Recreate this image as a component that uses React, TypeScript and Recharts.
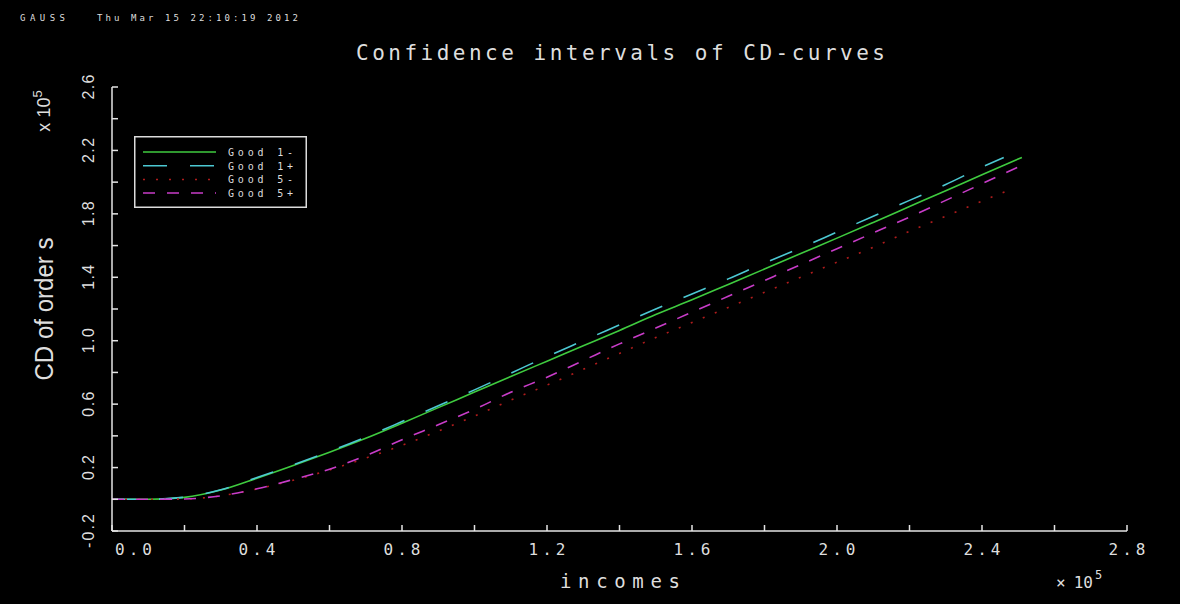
import React from "react";
import { LineChart, Line, XAxis, YAxis, Legend } from "recharts";

// incomes in units of 10^5, CD values in units of 10^5
const incomes = [
  0, 0.1, 0.2, 0.3, 0.4, 0.5, 0.6, 0.7, 0.8, 0.9, 1.0, 1.1, 1.2, 1.3, 1.4, 1.5, 1.6, 1.7, 1.8, 1.9, 2.0, 2.1,
  2.2, 2.3, 2.4, 2.46, 2.49, 2.5, 2.51
];
const good1Minus = [
  0, 0, 0.012, 0.058, 0.133, 0.213, 0.297, 0.385, 0.48, 0.578, 0.676, 0.774, 0.871, 0.968, 1.065, 1.165, 1.258,
  1.355, 1.452, 1.55, 1.647, 1.746, 1.846, 1.946, 2.046, null, null, null, 2.156
];
const good1Plus = [
  0, 0, 0.013, 0.06, 0.137, 0.218, 0.302, 0.392, 0.49, 0.59, 0.69, 0.795, 0.9, 1.0, 1.1, 1.2, 1.295, 1.39, 1.49,
  1.585, 1.685, 1.785, 1.885, 1.985, 2.095, 2.156, null, null, null
];
const good5Minus = [
  0, 0, 0.002, 0.022, 0.065, 0.12, 0.185, 0.26, 0.34, 0.43, 0.525, 0.625, 0.72, 0.82, 0.92, 1.02, 1.115, 1.21,
  1.305, 1.4, 1.495, 1.59, 1.69, 1.785, 1.88, null, 1.965, null, null
];
const good5Plus = [
  0, 0, 0.002, 0.022, 0.066, 0.125, 0.19, 0.275, 0.375, 0.47, 0.567, 0.675, 0.77, 0.875, 0.98, 1.08, 1.18, 1.28,
  1.38, 1.48, 1.58, 1.68, 1.78, 1.885, 1.99, null, null, 2.095, null
];

const xTicks = [0, 0.2, 0.4, 0.6, 0.8, 1.0, 1.2, 1.4, 1.6, 1.8, 2.0, 2.2, 2.4, 2.6, 2.8];
const yTicks = [-0.2, 0, 0.2, 0.4, 0.6, 0.8, 1.0, 1.2, 1.4, 1.6, 1.8, 2.0, 2.2, 2.4, 2.6];

const data = incomes.map((x, i) => ({
  x,
  g1m: good1Minus[i],
  g1p: good1Plus[i],
  g5m: good5Minus[i],
  g5p: good5Plus[i]
}));

const AXIS = "#e4e4e4";
const TEXT = "#dedede";
const MONO = "'DejaVu Sans Mono', monospace";
const NARROW = "'Liberation Sans Narrow', 'Liberation Sans', sans-serif";

const series = [
  { key: "g1m", name: "Good 1-", color: "#3fcb3f", dash: undefined },
  { key: "g1p", name: "Good 1+", color: "#4cc8d2", dash: "24 23" },
  { key: "g5m", name: "Good 5-", color: "#b01c1c", dash: "2 11" },
  { key: "g5p", name: "Good 5+", color: "#c83cc8", dash: "12 12" }
];

function XTick({ x, y, payload }: any) {
  const v = payload.value;
  const major = Math.round(v * 10) % 4 === 0;
  const first = v === 0;
  return (
    <g>
      <line x1={x} x2={x} y1={y} y2={y - 6} stroke={AXIS} strokeWidth={1.5} />
      {major && (
        <text
          x={first ? x + 3 : x}
          y={y + 24}
          textAnchor={first ? "start" : "middle"}
          fill={TEXT}
          fontFamily={MONO}
          fontSize={16}
          textLength={37}
          lengthAdjust="spacing"
        >
          {v.toFixed(1)}
        </text>
      )}
    </g>
  );
}

function YTick({ x, y, payload }: any) {
  const v = payload.value;
  const major = Math.round((v + 0.2) * 10) % 4 === 0;
  const label = v.toFixed(1);
  return (
    <g>
      <line x1={x} x2={x + 6} y1={y} y2={y} stroke={AXIS} strokeWidth={1.5} />
      {major && (
        <text
          transform={`translate(${x - 18},${y}) rotate(-90)`}
          textAnchor="middle"
          fill={TEXT}
          fontFamily={NARROW}
          fontSize={16}
          textLength={label.length > 3 ? 34 : 25}
          lengthAdjust="spacing"
        >
          {label}
        </text>
      )}
    </g>
  );
}

function GaussLegend({ payload }: any) {
  const items = [...(payload || [])].sort(
    (a: any, b: any) =>
      series.findIndex((s) => s.key === a.dataKey) - series.findIndex((s) => s.key === b.dataKey)
  );
  return (
    <svg width={173} height={72} style={{ display: "block" }}>
      <rect x={0.75} y={0.75} width={171.5} height={70.5} fill="#000" stroke="#dcdcdc" strokeWidth={1.5} />
      {items.map((p: any, i: number) => {
        const s = series.find((d) => d.key === p.dataKey);
        const cy = 16 + i * 13.7;
        return (
          <g key={p.value}>
            <line x1={9} x2={82} y1={cy} y2={cy} stroke={p.color} strokeWidth={1.5} strokeDasharray={s?.dash} />
            <text
              x={94}
              y={cy + 4}
              fill={TEXT}
              fontFamily={MONO}
              fontSize={10}
              textLength={65}
              lengthAdjust="spacing"
            >
              {p.value}
            </text>
          </g>
        );
      })}
    </svg>
  );
}

export default function App() {
  return (
    <div style={{ position: "absolute", left: 0, top: 0, width: 1180, height: 604, background: "#000" }}>
      <LineChart width={1180} height={604} data={data} margin={{ top: 87, right: 53, bottom: 0, left: 0 }}>
        <XAxis
          dataKey="x"
          type="number"
          domain={[0, 2.8]}
          ticks={xTicks}
          interval={0}
          height={73}
          axisLine={{ stroke: AXIS, strokeWidth: 1.5 }}
          tickLine={false}
          tickSize={0}
          tickMargin={0}
          tick={<XTick />}
        />
        <YAxis
          type="number"
          domain={[-0.2, 2.6]}
          ticks={yTicks}
          interval={0}
          width={112}
          axisLine={{ stroke: AXIS, strokeWidth: 1.5 }}
          tickLine={false}
          tickSize={0}
          tickMargin={0}
          tick={<YTick />}
        />
        <Legend
          layout="vertical"
          align="center"
          verticalAlign="middle"
          content={<GaussLegend />}
          wrapperStyle={{ position: "absolute", left: 134, top: 136, width: 173, height: 72 }}
        />
        {series.map((s) => (
          <Line
            key={s.key}
            type="monotone"
            dataKey={s.key}
            name={s.name}
            stroke={s.color}
            strokeWidth={1.6}
            strokeDasharray={s.dash}
            dot={false}
            activeDot={false}
            connectNulls
            isAnimationActive={false}
          />
        ))}
      </LineChart>
      <svg
        width={1180}
        height={604}
        style={{ position: "absolute", left: 0, top: 0, pointerEvents: "none" }}
      >
        <text x={20} y={21} fill={TEXT} fontFamily={MONO} fontSize={9} textLength={45} lengthAdjust="spacing">
          GAUSS
        </text>
        <text x={97} y={21} fill={TEXT} fontFamily={MONO} fontSize={9} textLength={201} lengthAdjust="spacing">
          Thu Mar 15 22:10:19 2012
        </text>
        <text
          x={356}
          y={60}
          fill={TEXT}
          fontFamily={MONO}
          fontSize={21}
          textLength={529}
          lengthAdjust="spacing"
        >
          Confidence intervals of CD-curves
        </text>
        <text
          transform="translate(53,309) rotate(-90)"
          textAnchor="middle"
          fill={TEXT}
          fontFamily={NARROW}
          fontSize={26}
          textLength={143}
          lengthAdjust="spacingAndGlyphs"
        >
          CD of order s
        </text>
        <text
          transform="translate(50,111) rotate(-90)"
          textAnchor="middle"
          fill={TEXT}
          fontFamily={NARROW}
          fontSize={18}
        >
          x 10<tspan dy={-8} fontSize={13}>5</tspan>
        </text>
        <text
          x={560}
          y={588}
          fill={TEXT}
          fontFamily={MONO}
          fontSize={19}
          textLength={120}
          lengthAdjust="spacing"
        >
          incomes
        </text>
        <text x={1056} y={588} fill={TEXT} fontFamily={MONO} fontSize={16}>
          ×
          <tspan dx={8}>10</tspan>
          <tspan dx={2} dy={-9} fontSize={12}>
            5
          </tspan>
        </text>
      </svg>
    </div>
  );
}
